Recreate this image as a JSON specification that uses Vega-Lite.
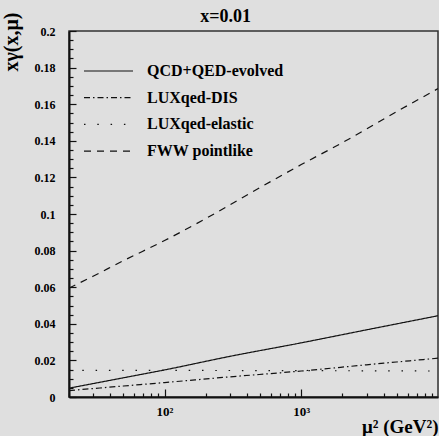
{
  "$schema": "https://vega.github.io/schema/vega-lite/v6.json",
  "width": 369,
  "height": 366,
  "autosize": {"type": "none"},
  "padding": {"left": 69, "top": 31, "right": 1, "bottom": 39},
  "background": "#dfdfdf",
  "title": {
    "text": "x=0.01",
    "frame": "group",
    "anchor": "middle",
    "dx": -28,
    "dy": 38,
    "offset": 10,
    "baseline": "alphabetic",
    "font": "Liberation Serif",
    "fontSize": 18,
    "fontWeight": "bold",
    "color": "#000"
  },
  "data": {
    "values": [
      {"series": "QCD+QED-evolved", "mu2": 20, "xg": 0.0048},
      {"series": "QCD+QED-evolved", "mu2": 50, "xg": 0.0105},
      {"series": "QCD+QED-evolved", "mu2": 100, "xg": 0.0148},
      {"series": "QCD+QED-evolved", "mu2": 300, "xg": 0.0222},
      {"series": "QCD+QED-evolved", "mu2": 1000, "xg": 0.0296},
      {"series": "QCD+QED-evolved", "mu2": 3000, "xg": 0.0367},
      {"series": "QCD+QED-evolved", "mu2": 10000, "xg": 0.0444},
      {"series": "LUXqed-DIS", "mu2": 20, "xg": 0.0035},
      {"series": "LUXqed-DIS", "mu2": 50, "xg": 0.006},
      {"series": "LUXqed-DIS", "mu2": 100, "xg": 0.0079},
      {"series": "LUXqed-DIS", "mu2": 300, "xg": 0.011},
      {"series": "LUXqed-DIS", "mu2": 1000, "xg": 0.0142},
      {"series": "LUXqed-DIS", "mu2": 3000, "xg": 0.0176},
      {"series": "LUXqed-DIS", "mu2": 10000, "xg": 0.0212},
      {"series": "LUXqed-elastic", "mu2": 20, "xg": 0.0146},
      {"series": "LUXqed-elastic", "mu2": 1000, "xg": 0.0144},
      {"series": "LUXqed-elastic", "mu2": 10000, "xg": 0.0142},
      {"series": "FWW pointlike", "mu2": 20, "xg": 0.0595},
      {"series": "FWW pointlike", "mu2": 30, "xg": 0.0660},
      {"series": "FWW pointlike", "mu2": 50, "xg": 0.0745},
      {"series": "FWW pointlike", "mu2": 100, "xg": 0.0855},
      {"series": "FWW pointlike", "mu2": 200, "xg": 0.0975},
      {"series": "FWW pointlike", "mu2": 500, "xg": 0.1145},
      {"series": "FWW pointlike", "mu2": 1000, "xg": 0.1270},
      {"series": "FWW pointlike", "mu2": 2000, "xg": 0.1390},
      {"series": "FWW pointlike", "mu2": 5000, "xg": 0.1560},
      {"series": "FWW pointlike", "mu2": 10000, "xg": 0.1685}
    ]
  },
  "mark": {"type": "line", "strokeWidth": 1.2, "color": "#111", "interpolate": "monotone", "clip": true},
  "encoding": {
    "x": {
      "field": "mu2",
      "type": "quantitative",
      "scale": {"type": "log", "domain": [20, 10000], "nice": false},
      "axis": {
        "title": "μ² (GeV²)",
        "values": [20, 30, 40, 50, 60, 70, 80, 90, 100, 200, 300, 400, 500, 600, 700, 800, 900, 1000, 2000, 3000, 4000, 5000, 6000, 7000, 8000, 9000],
        "labelExpr": "datum.value == 100 ? '10²' : datum.value == 1000 ? '10³' : ''",
        "tickSize": {"condition": {"test": "datum.value == 100 || datum.value == 1000", "value": -8}, "value": -4},
        "labelPadding": 16,
        "labelFontSize": 13,
        "labelFlush": false,
        "labelOverlap": false,
        "titleAnchor": "end",
        "titleAlign": "right",
        "titleBaseline": "alphabetic",
        "titleX": 369,
        "titleY": 35,
        "titleFontSize": 19
      }
    },
    "y": {
      "field": "xg",
      "type": "quantitative",
      "scale": {"domain": [0, 0.2], "nice": false, "zero": true},
      "axis": {
        "title": "xγ(x,μ)",
        "values": [0, 0.005, 0.01, 0.015, 0.02, 0.025, 0.03, 0.035, 0.04, 0.045, 0.05, 0.055, 0.06, 0.065, 0.07, 0.075, 0.08, 0.085, 0.09, 0.095, 0.1, 0.105, 0.11, 0.115, 0.12, 0.125, 0.13, 0.135, 0.14, 0.145, 0.15, 0.155, 0.16, 0.165, 0.17, 0.175, 0.18, 0.185, 0.19, 0.195, 0.2],
        "labelExpr": "abs(datum.value*50 - round(datum.value*50)) < 1e-6 ? format(datum.value, '~g') : ''",
        "tickSize": {"condition": {"test": "abs(datum.value*50 - round(datum.value*50)) < 1e-6", "value": -7}, "value": -4},
        "labelPadding": 21,
        "labelFlush": false,
        "labelOverlap": false,
        "titleAngle": -90,
        "titleAlign": "right",
        "titleBaseline": "middle",
        "titleX": -58,
        "titleY": -19,
        "titleFontSize": 20
      }
    },
    "strokeDash": {
      "field": "series",
      "type": "nominal",
      "scale": {
        "domain": ["QCD+QED-evolved", "LUXqed-DIS", "LUXqed-elastic", "FWW pointlike"],
        "range": [[1, 0], [6, 3, 1.5, 3], [1.5, 11.8], [7, 6]]
      },
      "legend": {
        "title": null,
        "orient": "none",
        "legendX": 14,
        "legendY": 32,
        "symbolType": "stroke",
        "symbolSize": 2401,
        "symbolStrokeWidth": 1.2,
        "symbolStrokeColor": "#111",
        "labelOffset": 13,
        "labelFont": "Liberation Serif",
        "labelFontSize": 16,
        "labelFontWeight": "bold",
        "labelColor": "#000",
        "labelLimit": 300,
        "clipHeight": 16,
        "rowPadding": 10.7,
        "padding": 0
      }
    }
  },
  "config": {
    "view": {"stroke": "#333", "strokeWidth": 1.5},
    "axis": {
      "grid": false,
      "domainColor": "#111",
      "domainWidth": 2,
      "tickColor": "#111",
      "tickWidth": 1.2,
      "labelFont": "Liberation Serif",
      "labelFontSize": 12,
      "labelFontWeight": "bold",
      "labelColor": "#000",
      "titleFont": "Liberation Serif",
      "titleFontWeight": "bold",
      "titleColor": "#000"
    }
  }
}
